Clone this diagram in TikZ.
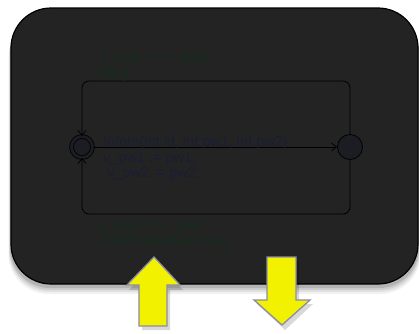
\documentclass[tikz,border=0pt]{standalone}
\usepackage{fontspec}
\setmainfont{Liberation Sans}
\usetikzlibrary{arrows.meta}
\definecolor{panel}{RGB}{35,35,35}
\definecolor{locfill}{RGB}{28,29,34}
\definecolor{guardcol}{RGB}{20,44,30}
\definecolor{updcol}{RGB}{26,30,52}
\definecolor{hiyellow}{RGB}{242,242,0}
\definecolor{arrowedge}{RGB}{140,140,165}
\tikzset{
  x=1pt, y=-1pt,
  panelbox/.style={fill=panel, draw=black, line width=1.2pt, rounded corners=40pt},
  location/.style={circle, draw=black, fill=locfill, line width=0.8pt, minimum size=25pt, inner sep=0pt},
  initloc/.style={location, double=locfill, double distance=3pt, minimum size=21pt},
  edge/.style={draw=black, line width=0.8pt},
  trans/.style={edge, -{Straight Barb[length=5pt,width=8pt]}},
  label/.style={anchor=base west, inner sep=0pt, font=\fontsize{14.5}{16}\selectfont, align=left},
  guard/.style={label, text=guardcol},
  update/.style={label, text=updcol},
  bigarrow/.style={fill=hiyellow, draw=arrowedge, line width=1.3pt, line join=miter},
}
\begin{document}
\begin{tikzpicture}
  \useasboundingbox (0,0) rectangle (419,333);
  % soft shadow under the panel
  \foreach \s/\o in {10/0.05, 8/0.07, 6/0.09, 4/0.12} {
    \fill[black, opacity=\o, rounded corners=40pt] (11-\s/4,8+\s) rectangle (418+\s/4,284+\s);
  }
  \path[panelbox] (11,8) rectangle (418,284);

  % locations
  \node[initloc] (init) at (82,147) {};
  \node[location] (done) at (350,147) {};

  % loop corners
  \coordinate (tl) at (82,81);
  \coordinate (tr) at (350,81);
  \coordinate (bl) at (82,214);
  \coordinate (br) at (350,214);

  % transitions
  \draw[trans] (init) -- (done);
  \draw[trans, rounded corners=7pt] (done.north) -- (tr) -- (tl) -- (init.north);
  \draw[trans, rounded corners=7pt] (done.south) -- (br) -- (bl) -- (init.south);

  % labels
  \node[guard] (okg) at (99,62.5) {v\_pw1 == v\_pw2};
  \node[guard] (oks) at (99,78) {OK()};
  \node[update] (sync) at (103,146.5) {InfoIn(int id, int pw1, int pw2)};
  \node[update] (u1) at (103,162) {v\_pw1 := pw1;};
  \node[update] (u2) at (103,177) {\ v\_pw2 := pw2;};
  \node[guard] (bg) at (99,230) {v\_pw1 != v\_pw2};
  \node[guard] (bs) at (99,245.5) {OutPwMismatched()};

  % in / out arrows
  \fill[black, opacity=0.15] (156,261) -- (183,290) -- (170,290) -- (170,330) -- (142,330) -- (142,290) -- (129,290) -- cycle;
  \path[bigarrow] (154,257) -- (180,285) -- (167,285) -- (167,326) -- (139,326) -- (139,285) -- (127,285) -- cycle;
  \fill[black, opacity=0.15] (270,261) -- (299,261) -- (299,304) -- (313,304) -- (285,330) -- (257,304) -- (270,304) -- cycle;
  \path[bigarrow] (267,257) -- (296,257) -- (296,300) -- (310,300) -- (282,325) -- (254,300) -- (267,300) -- cycle;
\end{tikzpicture}
\end{document}
